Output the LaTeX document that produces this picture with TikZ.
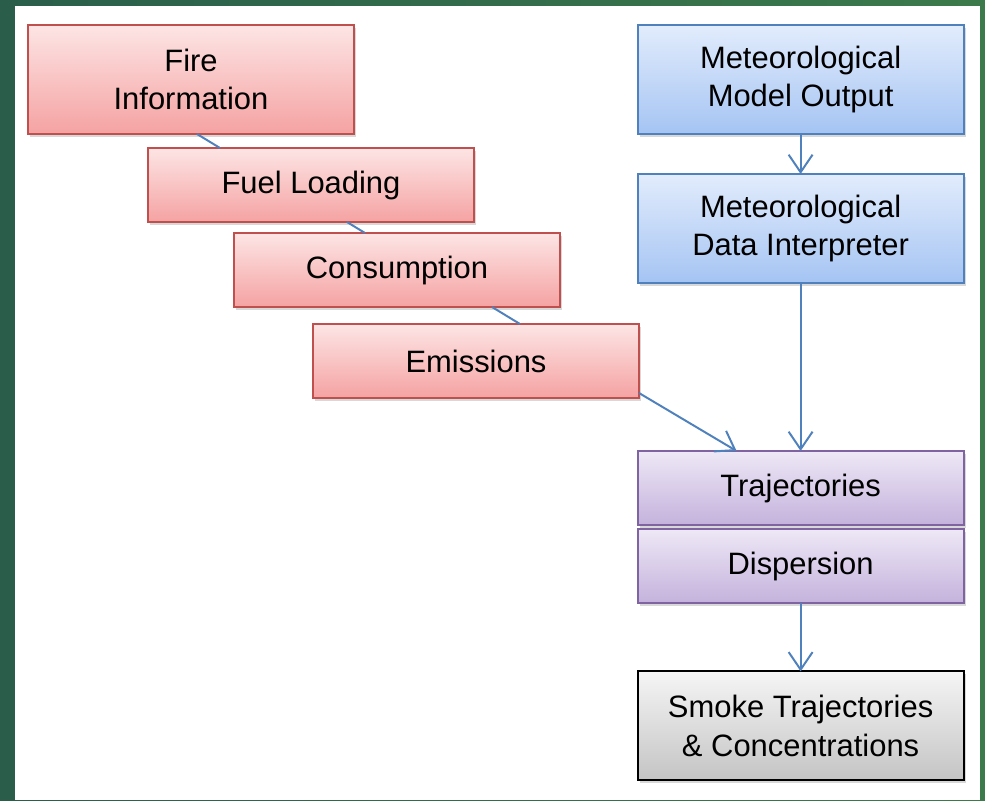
\documentclass[tikz,border=0pt]{standalone}
\usepackage{fontspec}
\setmainfont{Liberation Sans}
\usetikzlibrary{positioning,shadows,arrows.meta}
\definecolor{slidebg}{HTML}{3C7A4B}
\definecolor{slidebgd}{HTML}{2A5E4B}
\definecolor{redline}{HTML}{C0504D}
\definecolor{redtop}{HTML}{FDE5E5}
\definecolor{redbot}{HTML}{F5A2A2}
\definecolor{blueline}{HTML}{4F81BD}
\definecolor{bluetop}{HTML}{E2ECFC}
\definecolor{bluebot}{HTML}{A5C4F3}
\definecolor{purpline}{HTML}{8064A2}
\definecolor{purptop}{HTML}{EEE8F6}
\definecolor{purpbot}{HTML}{C4B2DC}
\definecolor{greytop}{HTML}{F5F5F5}
\definecolor{greybot}{HTML}{C4C4C4}
\definecolor{conn}{HTML}{4F81BD}
\tikzset{
  box/.style = {draw,line width=1.4pt,minimum width=8.15cm,inner sep=0pt,outer sep=0pt,align=center,
    font=\fontsize{22}{27.5}\selectfont,
    drop shadow={shadow xshift=0.05cm,shadow yshift=-0.07cm,opacity=0.3}},
  tall/.style = {minimum height=2.725cm},
  short/.style = {minimum height=1.85cm},
  firebox/.style = {box,draw=redline,top color=redtop,bottom color=redbot},
  metbox/.style = {box,draw=blueline,top color=bluetop,bottom color=bluebot},
  modbox/.style = {box,draw=purpline,top color=purptop,bottom color=purpbot},
  outbox/.style = {box,draw=black,top color=greytop,bottom color=greybot},
  link/.style = {conn,line width=1.4pt},
  arr/.style = {link,-{Straight Barb[length=12.5pt,width=17pt]}}
}
\newlength{\stepgap}
\setlength{\stepgap}{0.35cm}

\begin{document}
\begin{tikzpicture}
\useasboundingbox (0,0) rectangle (24.625,-20);
\shade[left color=slidebgd,right color=slidebg] (0,0) rectangle (24.625,-20);
\fill[white] (0.375,-0.15) rectangle (24.5,-20);

% fire side, staggered
\node[firebox,tall,anchor=north west] (fire) at (0.7,-0.625) {Fire\\Information};
\node[firebox,short,below right=\stepgap and 3cm of fire.south west] (fuel) {Fuel Loading};
\node[firebox,short,below right=0.275cm and 2.15cm of fuel.south west] (cons) {Consumption};
\node[firebox,short,below right=0.425cm and 1.975cm of cons.south west] (emis) {Emissions};

% weather side
\node[metbox,tall,right=7.09cm of fire.north east,anchor=north west] (metmod) {Meteorological\\Model Output};
\node[metbox,tall,below=1cm of metmod] (metdat) {Meteorological\\Data Interpreter};

\node[modbox,short,below=4.2cm of metdat] (traj) {Trajectories};
\node[modbox,short,below=0.1cm of traj] (disp) {Dispersion};
\node[outbox,tall,below=1.71cm of disp] (smoke) {Smoke Trajectories\\\& Concentrations};

\draw[link] ([xshift=0.15cm]fire.south) -- ([xshift=-2.275cm]fuel.north);
\draw[link] ([xshift=0.9cm]fuel.south) -- ([xshift=-0.8cm]cons.north);
\draw[link] ([xshift=2.375cm]cons.south) -- ([xshift=1.1cm]emis.north);

\draw[arr] ([yshift=0.125cm]emis.south east) -- ([xshift=-1.6cm]traj.north);
\draw[arr] (metmod) -- (metdat);
\draw[arr] (metdat) -- (traj);
\draw[arr] (disp) -- (smoke);
\end{tikzpicture}
\end{document}
